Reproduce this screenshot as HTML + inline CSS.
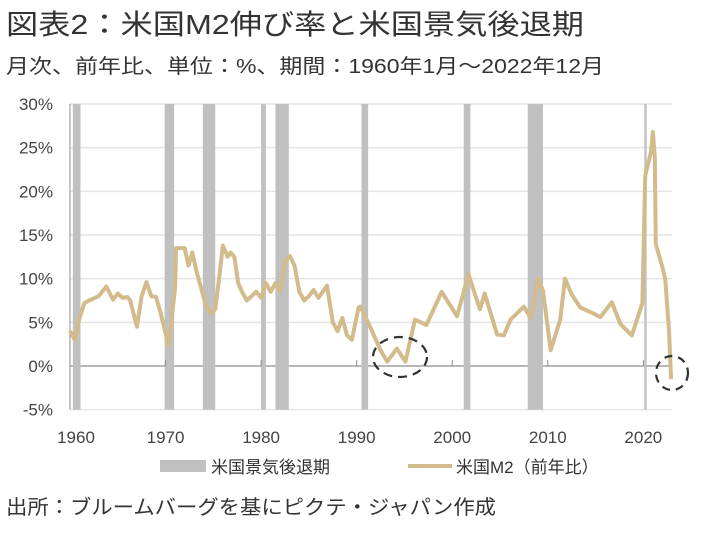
<!DOCTYPE html>
<html><head><meta charset="utf-8"><style>
body{margin:0;background:#fff;width:706px;height:537px;overflow:hidden;font-family:"Liberation Sans","Noto Sans CJK JP",sans-serif;}
svg{display:block}
</style></head><body>
<svg id="chart" width="706" height="537" font-family="Liberation Sans, Noto Sans CJK JP, sans-serif">
<text x="6" y="34" font-size="28" fill="#333" textLength="578" lengthAdjust="spacingAndGlyphs">図表2：米国M2伸び率と米国景気後退期</text>
<text x="6" y="73" font-size="20" fill="#333" textLength="598" lengthAdjust="spacingAndGlyphs">月次、前年比、単位：%、期間：1960年1月～2022年12月</text>
<g id="plot"></g>
<text x="6" y="514" font-size="20" fill="#333" textLength="490" lengthAdjust="spacingAndGlyphs">出所：ブルームバーグを基にピクテ・ジャパン作成</text>
</svg>
<script>
const yTicks=[30,25,20,15,10,5,0,-5];
const xTicks=[1960,1970,1980,1990,2000,2010,2020];
const recStart=[1960.3,1969.9,1973.9,1980.0,1981.5,1990.5,2001.2,2007.9,2020.1];
const recEnd=[1961.1,1970.9,1975.2,1980.5,1982.9,1991.2,2001.9,2009.5,2020.35];
const years=[1960.0,1960.5,1961.0,1961.5,1962,1963,1963.8,1964.5,1965,1965.5,1966,1966.3,1967.0,1967.5,1968.0,1968.5,1969,1969.5,1970.3,1970.6,1971.0,1971.1,1972,1972.4,1972.8,1973.2,1973.7,1974.2,1974.8,1975.2,1975.6,1976.0,1976.5,1976.8,1977.2,1977.6,1978,1978.5,1979,1979.5,1980,1980.5,1981,1981.5,1982,1982.5,1983.0,1983.5,1984,1984.5,1985,1985.5,1986,1986.9,1987.5,1988,1988.5,1989,1989.5,1990.2,1990.4,1991.4,1992.5,1993.2,1994.2,1995.1,1996.1,1997.3,1998.9,2000.5,2001.7,2002.9,2003.4,2004.7,2005.4,2006.1,2007.5,2008.2,2009.0,2009.5,2010.3,2011.3,2011.8,2012.5,2013.4,2014.8,2015.5,2016.7,2017.6,2018.8,2019.9,2020.2,2020.8,2021.0,2021.2,2021.3,2022.0,2022.3,2022.7,2022.9];
const m2=[4,3,5.5,7.2,7.5,8,9.1,7.6,8.3,7.8,7.9,7.5,4.5,8,9.6,8,7.9,6,2.4,5,9,13.5,13.5,11.5,13,11,9,7,6,6.5,10,13.8,12.5,13,12.5,9.5,8.5,7.5,8,8.5,7.8,9.5,8.5,9.5,8.5,12,12.6,11.5,8.5,7.5,8,8.7,7.8,9.2,5,4,5.5,3.5,3,6.7,6.8,4.5,1.8,0.5,2.0,0.5,5.3,4.7,8.5,5.7,10.5,6.5,8.3,3.6,3.5,5.3,6.8,5.5,10,8.6,1.8,5.3,10,8.2,6.7,6.0,5.6,7.3,4.8,3.5,7.2,21.8,24.5,26.8,24,14,11.3,9.9,3.8,-1.5];
const NS="http://www.w3.org/2000/svg";
const g=document.getElementById('plot');
const X0=70,X1=672,Y30=104,Y0=366;
function xs(yr){return X0+(yr-1960)*(X1-X0)/63;}
function ys(v){return Y0-(v)*(Y0-Y30)/30;}
function mk(t,a){const e=document.createElementNS(NS,t);for(const k in a)e.setAttribute(k,a[k]);g.appendChild(e);return e;}
yTicks.forEach(v=>{
  const l=mk('line',{x1:X0,x2:X1,y1:ys(v),y2:ys(v),stroke:v===0?'#8c8c8c':'#e4e4e4','stroke-width':v===0?1.2:1.5});
  
  
  const t=mk('text',{x:53,y:ys(v)+6,'text-anchor':'end','font-size':17,fill:'#444'});
  t.textContent=v+'%';
  
  
});
recStart.forEach((s,i)=>{
  const r=mk('rect',{x:xs(s),y:ys(30),width:xs(recEnd[i])-xs(s),height:ys(-5)-ys(30),fill:'#c0c0c0'});
  
  
});
const ax=mk('line',{x1:X0,x2:X0,y1:ys(30),y2:ys(-5),stroke:'#8c8c8c','stroke-width':1});


xTicks.forEach(yr=>{
  const tk=mk('line',{x1:xs(yr),x2:xs(yr),y1:Y0,y2:Y0-6,stroke:'#8c8c8c'});
  
  
  const t=mk('text',{x:xs(yr)+(yr===1960?6:0),y:443,'text-anchor':'middle','font-size':17,fill:'#444'});
  t.textContent=yr;
  
  
});
const p=mk('polyline',{points:years.map((y,i)=>xs(y)+','+ys(m2[i])).join(' '),fill:'none',stroke:'#d3bb8c','stroke-width':4,'stroke-linejoin':'round'});


const e1=mk('ellipse',{cx:400,cy:357,rx:27,ry:20,fill:'none',stroke:'#333','stroke-width':2.2,'stroke-dasharray':'9 6'});


const e2=mk('ellipse',{cx:672,cy:373,rx:16,ry:17,fill:'none',stroke:'#333','stroke-width':2.2,'stroke-dasharray':'8 6'});


const lg1=mk('rect',{x:160,y:460,width:46,height:12,fill:'#c0c0c0'});


const lt1=mk('text',{x:211,y:473,'font-size':17,fill:'#333'});
lt1.textContent='米国景気後退期';


const lg2=mk('line',{x1:408,x2:452,y1:466,y2:466,stroke:'#d3bb8c','stroke-width':4});


const lt2=mk('text',{x:456,y:473,'font-size':17,fill:'#333'});
lt2.textContent='米国M2（前年比）';


</script>
</body></html>
